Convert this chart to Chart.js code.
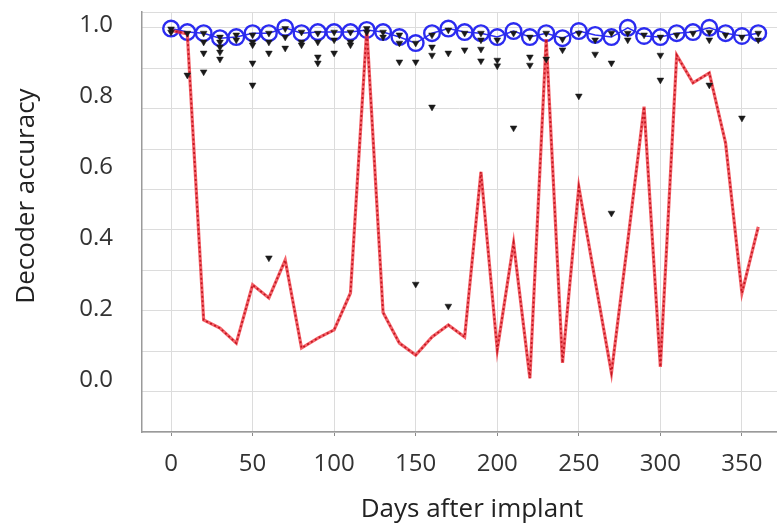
<!DOCTYPE html>
<html lang="en">
<head>
    <meta charset="UTF-8">
    <title>Decoder accuracy</title>
    <script src="https://cdn.jsdelivr.net/npm/chart.js@4.4.3/dist/chart.umd.min.js"></script>
    <style>
        html, body { margin: 0; padding: 0; background: #fff; overflow: hidden; }
        canvas { display: block; }
    </style>
</head>
<body>
    <canvas id="accChart" width="777" height="527"></canvas>
    <script>
        const days = [0, 10, 20, 30, 40, 50, 60, 70, 80, 90, 100, 110, 120, 130, 140, 150, 160, 170, 180,
                      190, 200, 210, 220, 230, 240, 250, 260, 270, 280, 290, 300, 310, 320, 330, 340, 350, 360];

        // blue circles (best decoder per session)
        const bestAcc = [0.99, 0.98, 0.977, 0.963, 0.966, 0.977, 0.977, 0.992, 0.977, 0.98, 0.98, 0.98, 0.986,
                         0.98, 0.966, 0.949, 0.977, 0.99, 0.98, 0.977, 0.966, 0.983, 0.966, 0.977, 0.963, 0.983,
                         0.972, 0.966, 0.992, 0.969, 0.966, 0.977, 0.98, 0.992, 0.977, 0.969, 0.977];

        // red dotted line (fixed decoder)
        const fixedAcc = [0.985, 0.975, 0.169, 0.146, 0.104, 0.268, 0.231, 0.338, 0.09, 0.118, 0.141, 0.245, 0.99,
                          0.19, 0.104, 0.07, 0.121, 0.155, 0.121, 0.586, 0.085, 0.386, 0.005, 0.96, 0.048, 0.544,
                          0.28, 0.02, 0.39, 0.77, 0.037, 0.915, 0.837, 0.865, 0.667, 0.245, 0.431];

        // black triangles (other decoders)
        const triDays = [0, 0, 10, 10, 20, 20, 20, 20, 30, 30, 30, 30, 30, 40, 40, 50, 50, 50, 50, 50,
                         60, 60, 60, 60, 70, 70, 70, 80, 80, 80, 90, 90, 90, 90, 100, 100, 100, 110, 110, 110,
                         120, 120, 130, 130, 140, 140, 140, 150, 150, 150, 160, 160, 160, 160, 170, 170, 170,
                         180, 180, 190, 190, 190, 190, 200, 200, 200, 210, 210, 220, 220, 220, 230, 230,
                         240, 240, 250, 250, 260, 260, 270, 270, 270, 280, 280, 290, 300, 300, 300, 310, 320,
                         330, 330, 330, 340, 350, 350, 360, 360];
        const triAcc = [0.989, 0.98, 0.977, 0.859, 0.977, 0.952, 0.921, 0.868, 0.966, 0.952, 0.938, 0.924, 0.904,
                        0.972, 0.958, 0.972, 0.952, 0.944, 0.893, 0.831,
                        0.977, 0.952, 0.921, 0.344, 0.99, 0.966, 0.935, 0.98, 0.952, 0.944, 0.977, 0.952, 0.91, 0.893,
                        0.98, 0.958, 0.921, 0.98, 0.952, 0.944,
                        0.99, 0.98, 0.98, 0.966, 0.972, 0.949, 0.896, 0.949, 0.896, 0.27, 0.972, 0.938, 0.915, 0.769,
                        0.986, 0.921, 0.208,
                        0.977, 0.93, 0.977, 0.958, 0.932, 0.899, 0.958, 0.901, 0.885, 0.977, 0.71, 0.966, 0.91, 0.887,
                        0.977, 0.904,
                        0.96, 0.93, 0.977, 0.80, 0.958, 0.918, 0.977, 0.893, 0.47, 0.977, 0.958, 0.972, 0.966, 0.915,
                        0.845, 0.972, 0.977,
                        0.98, 0.958, 0.831, 0.972, 0.966, 0.738, 0.977, 0.958];

        const xTicks = [0, 50, 100, 150, 200, 250, 300, 350];
        const yTicks = [0.0, 0.2, 0.4, 0.6, 0.8, 1.0];

        const pts = (xs, ys) => xs.map((d, i) => ({x: d, y: ys[i]}));

        const FONT = '"Open Sans", "DejaVu Sans", sans-serif';

        // no automatic label overflow padding, the plot box is fixed
        const noPad = (s) => { s.paddingTop = 0; s.paddingBottom = 0; s.paddingLeft = 0; s.paddingRight = 0; };

        // axis titles placed by hand
        const titlesPlugin = {
            id: 'titles',
            afterDraw(chart) {
                const c = chart.ctx;
                c.save();
                c.fillStyle = '#222';
                c.font = '26px ' + FONT;
                c.textAlign = 'center';
                c.textBaseline = 'middle';
                c.fillText('Days after implant', 472, 510);
                c.translate(27, 196);
                c.rotate(-Math.PI / 2);
                c.fillText('Decoder accuracy', 0, 0);
                c.restore();
            }
        };

        new Chart(document.getElementById('accChart'), {
            type: 'line',
            data: {
                datasets: [
                    {
                        type: 'scatter',
                        data: pts(triDays, triAcc),
                        pointStyle: 'triangle',
                        rotation: 180,
                        pointRadius: 3.9,
                        pointBackgroundColor: '#1a1a1a',
                        pointBorderColor: '#1a1a1a',
                        pointBorderWidth: 0.5,
                        order: 1
                    },
                    {
                        data: pts(days, fixedAcc),
                        borderColor: 'rgba(190,15,25,0.9)',
                        borderWidth: 1.8,
                        borderDash: [2, 2.5],
                        pointRadius: 0,
                        tension: 0,
                        order: 2
                    },
                    {
                        data: pts(days, fixedAcc),
                        borderColor: 'rgba(240,45,55,0.75)',
                        borderWidth: 3.2,
                        pointRadius: 0,
                        tension: 0,
                        order: 3
                    },
                    {
                        data: pts(days, bestAcc),
                        borderColor: '#2b2bf0',
                        borderWidth: 1.5,
                        pointRadius: 7.8,
                        pointBorderWidth: 2.4,
                        pointBorderColor: '#2b2bf0',
                        pointBackgroundColor: 'rgba(255,255,255,0)',
                        tension: 0,
                        order: 4
                    }
                ]
            },
            options: {
                responsive: false,
                devicePixelRatio: 1,
                animation: false,
                layout: { autoPadding: false, padding: { top: 12, left: 0, right: 0, bottom: 0 } },
                plugins: { legend: { display: false }, tooltip: { enabled: false } },
                scales: {
                    x: {
                        type: 'linear',
                        min: -17.8,
                        max: 371.5,
                        afterBuildTicks: (s) => { s.ticks = xTicks.map(v => ({value: v})); },
                        afterFit: (s) => { s.height = 95; noPad(s); },
                        ticks: {
                            color: '#333',
                            font: { family: FONT, size: 24 },
                            padding: 14,
                            maxRotation: 0
                        },
                        grid: { color: '#dcdcdc', tickColor: '#8a8a8a', tickLength: 4 },
                        border: { color: '#9a9a9a', width: 1.5 }
                    },
                    y: {
                        min: -0.1465,
                        max: 1.0366,
                        afterBuildTicks: (s) => { s.ticks = yTicks.map(v => ({value: v})); },
                        afterFit: (s) => { s.width = 142; noPad(s); },
                        ticks: {
                            color: '#333',
                            font: { family: FONT, size: 24 },
                            padding: 29,
                            callback: (v) => v.toFixed(1)
                        },
                        grid: { display: false, drawTicks: false },
                        border: { color: '#9a9a9a', width: 1.5 }
                    },
                    y2: {
                        position: 'right',
                        min: 0,
                        max: 10.396,
                        afterBuildTicks: (s) => {
                            const t = [];
                            for (let k = 0; k <= 10; k++) t.push({value: k});
                            t.push({value: 10.396});
                            s.ticks = t;
                        },
                        afterFit: (s) => { s.width = 0; noPad(s); },
                        ticks: { display: false },
                        grid: { color: '#dcdcdc', drawTicks: false },
                        border: { display: false }
                    }
                }
            },
            plugins: [titlesPlugin]
        });
    </script>
</body>
</html>
